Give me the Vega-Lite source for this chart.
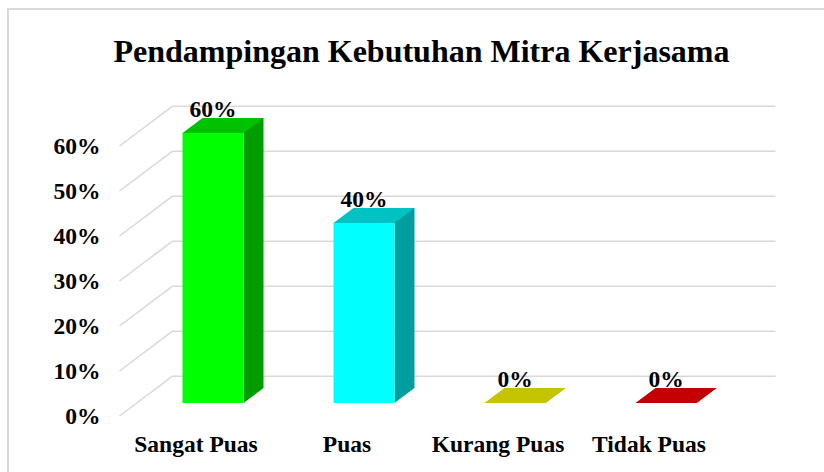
{
  "$schema": "https://vega.github.io/schema/vega-lite/v6.json",
  "width": 816,
  "height": 463,
  "autosize": {"type": "none"},
  "padding": {"left": 8, "top": 9, "right": 0, "bottom": 0},
  "background": "white",
  "view": {"stroke": "#d9d9d9", "strokeWidth": 2, "strokeDash": [816, 1279, 463]},
  "title": {
    "text": "Pendampingan Kebutuhan Mitra Kerjasama",
    "font": "Liberation Serif",
    "fontSize": 32,
    "fontWeight": "bold",
    "color": "black",
    "anchor": "middle",
    "baseline": "alphabetic",
    "offset": -85,
    "dx": 5.5
  },
  "datasets": {
    "survey": [
      {"kategori": "Sangat Puas", "persen": 0.6},
      {"kategori": "Puas", "persen": 0.4},
      {"kategori": "Kurang Puas", "persen": 0},
      {"kategori": "Tidak Puas", "persen": 0}
    ],
    "grid": [
      {"v": 0}, {"v": 0.1}, {"v": 0.2}, {"v": 0.3}, {"v": 0.4}, {"v": 0.5}, {"v": 0.6}
    ]
  },
  "layer": [
    {
      "data": {"name": "grid"},
      "mark": {"type": "rule", "color": "#d9d9d9", "strokeWidth": 1.5, "yOffset": -26.8, "xOffset": 109.5, "x2Offset": -40.5},
      "encoding": {
        "x": {"datum": "Tidak Puas", "type": "nominal"},
        "x2": {"datum": "Sangat Puas"},
        "y": {
          "field": "v",
          "type": "quantitative",
          "scale": {"domain": [0, 0.6], "range": [394, 124]},
          "axis": {
            "values": [0, 0.1, 0.2, 0.3, 0.4, 0.5, 0.6],
            "format": ".0%",
            "title": null,
            "domain": false,
            "ticks": false,
            "grid": false,
            "labelFont": "Liberation Serif",
            "labelFontSize": 23.5,
            "labelFontWeight": "bold",
            "labelColor": "black",
            "labelPadding": 0,
            "offset": -92,
            "labelOffset": 13.5,
            "labelBaseline": "middle"
          }
        }
      }
    },
    {
      "data": {"name": "grid"},
      "mark": {"type": "rule", "color": "#d9d9d9", "strokeWidth": 1.5, "xOffset": -93.5, "x2Offset": -40.5, "yOffset": 13, "y2Offset": -26.8},
      "encoding": {
        "x": {"datum": "Sangat Puas", "type": "nominal"},
        "x2": {"datum": "Sangat Puas"},
        "y": {"field": "v", "type": "quantitative"},
        "y2": {"field": "v"}
      }
    },
    {
      "data": {"name": "survey"},
      "mark": {"type": "bar", "width": 20, "xOffset": 40.5, "yOffset": -15, "y2Offset": -15},
      "encoding": {
        "x": {
          "field": "kategori",
          "type": "nominal",
          "scale": {"domain": ["Sangat Puas", "Puas", "Kurang Puas", "Tidak Puas"], "range": [129.5, 733.5], "paddingInner": 0, "paddingOuter": 0},
          "axis": {
            "title": null,
            "domain": false,
            "ticks": false,
            "grid": false,
            "labelAngle": 0,
            "labelAlign": "center",
            "labelFont": "Liberation Serif",
            "labelFontSize": 23.5,
            "labelFontWeight": "bold",
            "labelColor": "black",
            "labelPadding": 0,
            "labelBaseline": "alphabetic",
            "labelOverlap": false,
            "offset": -21,
            "labelOffset": -17
          }
        },
        "y": {"field": "persen", "type": "quantitative"},
        "color": {"field": "kategori", "type": "nominal", "scale": {"domain": ["Sangat Puas", "Puas", "Kurang Puas", "Tidak Puas"], "range": ["#009c00", "#009e9e", "#9c9c00", "#9c0000"]}, "legend": null}
      }
    },
    {
      "data": {"name": "survey"},
      "mark": {"type": "point", "shape": "M 30.5 0 L 30.5 -15 L 50.5 -15 Z", "size": 4, "filled": true, "opacity": 1, "strokeWidth": 0},
      "encoding": {
        "x": {"field": "kategori", "type": "nominal"},
        "y": {"datum": 0},
        "color": {"field": "kategori", "type": "nominal", "scale": {"domain": ["Sangat Puas", "Puas", "Kurang Puas", "Tidak Puas"], "range": ["#009c00", "#009e9e", "#9c9c00", "#9c0000"]}, "legend": null}
      }
    },
    {
      "data": {"name": "survey"},
      "mark": {"type": "bar", "width": 61},
      "encoding": {
        "x": {"field": "kategori", "type": "nominal"},
        "y": {"field": "persen", "type": "quantitative"},
        "color": {"field": "kategori", "type": "nominal", "scale": {"domain": ["Sangat Puas", "Puas", "Kurang Puas", "Tidak Puas"], "range": ["#00ff00", "#00ffff", "#ffff00", "#ff0000"]}, "legend": null}
      }
    },
    {
      "data": {"name": "survey"},
      "mark": {"type": "point", "shape": "M -30.5 0 L 30.5 0 L 50.5 -15 L -10.5 -15 Z", "size": 4, "filled": true, "opacity": 1, "strokeWidth": 0},
      "encoding": {
        "x": {"field": "kategori", "type": "nominal"},
        "y": {"field": "persen", "type": "quantitative"},
        "color": {"field": "kategori", "type": "nominal", "scale": {"domain": ["Sangat Puas", "Puas", "Kurang Puas", "Tidak Puas"], "range": ["#00c200", "#00c2c2", "#c4c400", "#c40000"]}, "legend": null}
      }
    },
    {
      "data": {"name": "survey"},
      "mark": {"type": "text", "dy": -16, "baseline": "alphabetic", "font": "Liberation Serif", "fontSize": 23.5, "fontWeight": "bold", "color": "black"},
      "encoding": {
        "x": {"field": "kategori", "type": "nominal"},
        "y": {"field": "persen", "type": "quantitative"},
        "text": {"field": "persen", "type": "quantitative", "format": ".0%"}
      }
    }
  ],
  "resolve": {"scale": {"color": "independent"}}
}
